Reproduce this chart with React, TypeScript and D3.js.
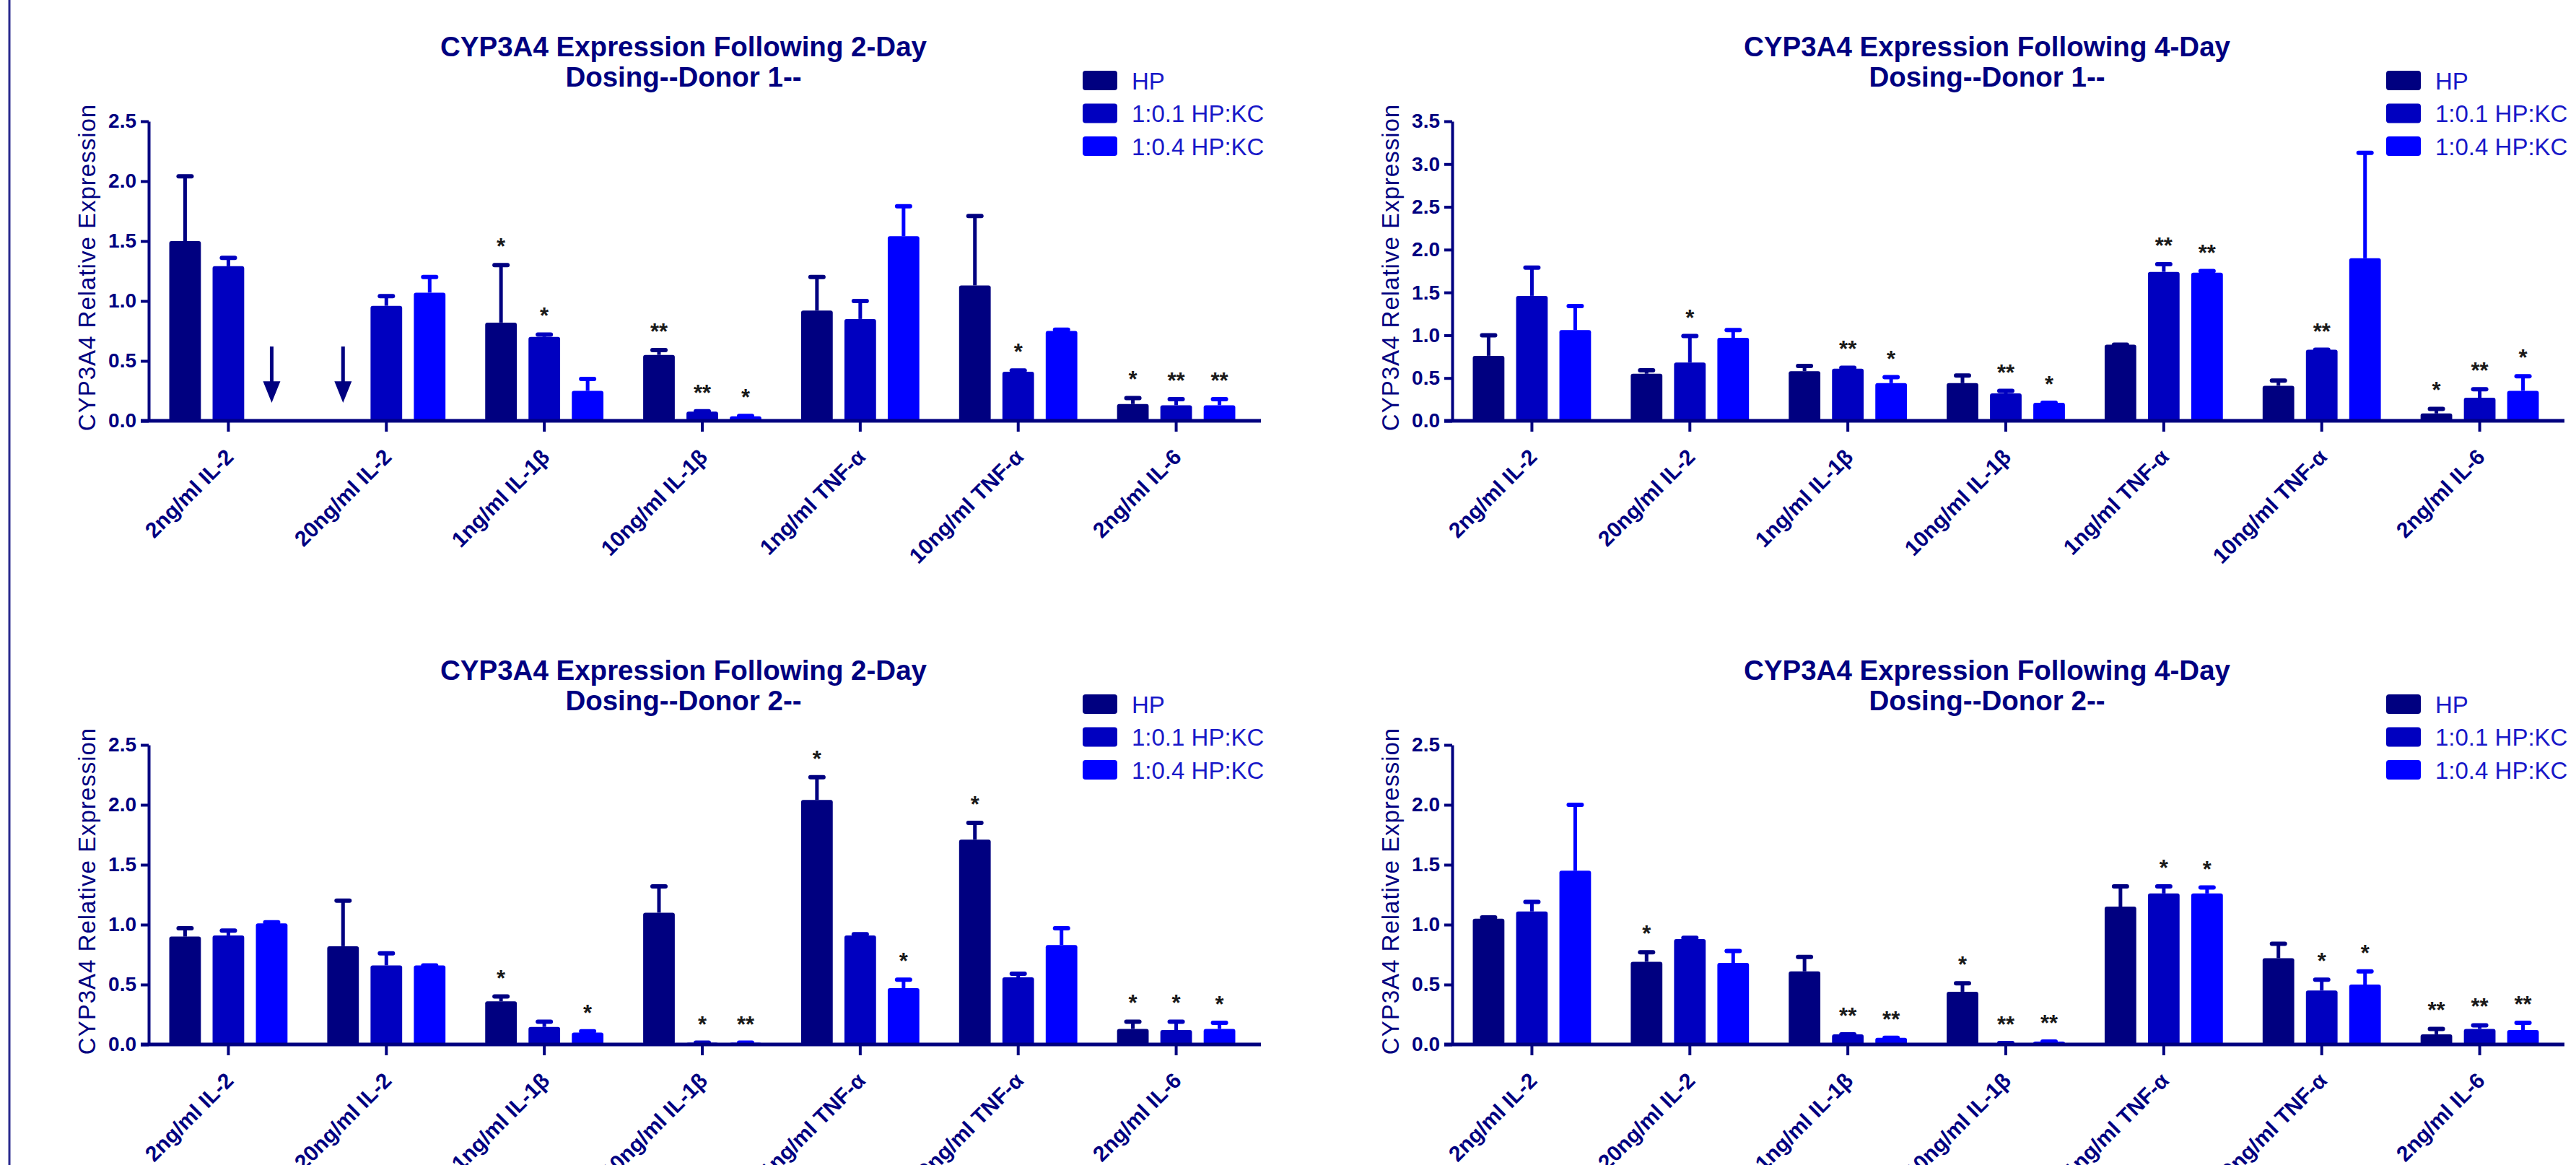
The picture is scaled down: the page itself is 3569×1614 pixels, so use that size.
import React, { useRef, useEffect } from 'react';
import { select, scaleBand, scaleLinear, axisLeft, axisBottom, range } from 'd3';

// categories and series shared by all four panels
const categories = ['2ng/ml IL-2', '20ng/ml IL-2', '1ng/ml IL-1β', '10ng/ml IL-1β', '1ng/ml TNF-α', '10ng/ml TNF-α', '2ng/ml IL-6'];
const seriesNames = ['HP', '1:0.1 HP:KC', '1:0.4 HP:KC'];
const seriesColors = ['#000080', '#0000c0', '#0000ff'];

/* 2-day dosing, donor 1 (means, top of error bars, significance marks) */
const d2d1Means = [
    [1.50, null, 0.82, 0.55, 0.92, 1.13, 0.14],
    [1.29, 0.96, 0.70, 0.077, 0.85, 0.41, 0.13],
    [null, 1.07, 0.25, 0.037, 1.54, 0.75, 0.13],
];
const d2d1Errs = [
    [2.04, null, 1.30, 0.59, 1.20, 1.71, 0.19],
    [1.36, 1.04, 0.72, 0.08, 1.00, 0.42, 0.18],
    [null, 1.20, 0.35, 0.04, 1.79, 0.76, 0.18],
];
const d2d1Stars = [
    ['', '', '*', '**', '', '', '*'],
    ['', '', '*', '**', '', '*', '**'],
    ['', '', '', '*', '', '', '**'],
];
// bars below detection, marked with an arrow: [category index, series index]
const d2d1Arrows = [[0, 2], [1, 0]];

/* 4-day dosing, donor 1 */
const d4d1Means = [
    [0.76, 0.55, 0.58, 0.44, 0.89, 0.41, 0.086],
    [1.46, 0.68, 0.61, 0.32, 1.74, 0.83, 0.27],
    [1.06, 0.97, 0.44, 0.21, 1.73, 1.90, 0.35],
];
const d4d1Errs = [
    [1.00, 0.59, 0.64, 0.53, 0.89, 0.47, 0.14],
    [1.79, 0.99, 0.62, 0.35, 1.83, 0.83, 0.37],
    [1.34, 1.06, 0.51, 0.21, 1.75, 3.13, 0.52],
];
const d4d1Stars = [
    ['', '', '', '', '', '', '*'],
    ['', '*', '**', '**', '**', '**', '**'],
    ['', '', '*', '*', '**', '', '*'],
];

/* 2-day dosing, donor 2 */
const d2d2Means = [
    [0.90, 0.82, 0.36, 1.10, 2.04, 1.71, 0.13],
    [0.91, 0.66, 0.146, 0.015, 0.91, 0.56, 0.12],
    [1.01, 0.66, 0.10, 0.015, 0.47, 0.83, 0.13],
];
const d2d2Errs = [
    [0.97, 1.20, 0.40, 1.32, 2.23, 1.85, 0.19],
    [0.95, 0.76, 0.19, 0.015, 0.92, 0.59, 0.19],
    [1.02, 0.66, 0.11, 0.015, 0.54, 0.97, 0.18],
];
const d2d2Stars = [
    ['', '', '*', '', '*', '*', '*'],
    ['', '', '', '*', '', '', '*'],
    ['', '', '*', '**', '*', '', '*'],
];

/* 4-day dosing, donor 2 */
const d4d2Means = [
    [1.05, 0.69, 0.61, 0.44, 1.15, 0.72, 0.085],
    [1.11, 0.88, 0.085, 0.012, 1.26, 0.45, 0.13],
    [1.45, 0.68, 0.055, 0.024, 1.26, 0.50, 0.12],
];
const d4d2Errs = [
    [1.06, 0.77, 0.73, 0.51, 1.32, 0.84, 0.13],
    [1.19, 0.89, 0.085, 0.012, 1.32, 0.54, 0.16],
    [2.00, 0.78, 0.055, 0.024, 1.31, 0.61, 0.18],
];
const d4d2Stars = [
    ['', '*', '', '*', '', '', '**'],
    ['', '', '**', '**', '*', '*', '**'],
    ['', '', '**', '**', '*', '*', '**'],
];

const yTicks25 = [0, 0.5, 1.0, 1.5, 2.0, 2.5];
const yTicks35 = [0, 0.5, 1.0, 1.5, 2.0, 2.5, 3.0, 3.5];

const NAVY = '#000080';
const FONT = '"Liberation Sans", Arial, Helvetica, sans-serif';
const PLOT_W = 1532;

const panels = [
    { title: ['CYP3A4 Expression Following 2-Day', 'Dosing--Donor 1--'], x0: 207, top: 168, base: 583, ticks: yTicks25, means: d2d1Means, errs: d2d1Errs, stars: d2d1Stars, arrows: d2d1Arrows },
    { title: ['CYP3A4 Expression Following 4-Day', 'Dosing--Donor 1--'], x0: 2013, top: 168, base: 583, ticks: yTicks35, means: d4d1Means, errs: d4d1Errs, stars: d4d1Stars, arrows: [] },
    { title: ['CYP3A4 Expression Following 2-Day', 'Dosing--Donor 2--'], x0: 207, top: 1032, base: 1447, ticks: yTicks25, means: d2d2Means, errs: d2d2Errs, stars: d2d2Stars, arrows: [] },
    { title: ['CYP3A4 Expression Following 4-Day', 'Dosing--Donor 2--'], x0: 2013, top: 1032, base: 1447, ticks: yTicks25, means: d4d2Means, errs: d4d2Errs, stars: d4d2Stars, arrows: [] },
];

const drawPanel = (g, p) => {
    const x1 = p.x0 + PLOT_W;
    const x = scaleBand().domain(categories).range([p.x0, x1]);
    /* position of each series inside a category group */
    const xs = scaleBand().domain(seriesNames).range([-90, 90]).paddingInner(0.27).paddingOuter(0.135);
    const yMax = p.ticks[p.ticks.length - 1];
    const y = scaleLinear().domain([0, yMax]).range([p.base, p.top]);
    const cx = (i, s) => x(categories[i]) + x.bandwidth() / 2 + xs(seriesNames[s]) + xs.bandwidth() / 2;

    // title
    const tx = (p.x0 + x1) / 2 - 26;
    g.selectAll('.title').data(p.title).join('text')
        .attr('class', 'title')
        .attr('x', tx).attr('y', (_, i) => p.top - 90 + i * 42)
        .attr('text-anchor', 'middle')
        .style('font', `bold 38.5px ${FONT}`).attr('fill', NAVY)
        .text(d => d);

    // y axis
    const yAxis = axisLeft(y).tickValues(p.ticks).tickFormat(d => d.toFixed(1)).tickSize(11).tickSizeOuter(0).tickPadding(6);
    const ya = g.append('g').attr('transform', `translate(${p.x0 - 1},0)`).call(yAxis);
    ya.select('.domain').attr('stroke', NAVY).attr('stroke-width', 4);
    ya.selectAll('line').attr('stroke', NAVY).attr('stroke-width', 4);
    ya.selectAll('text').style('font', `bold 28px ${FONT}`).attr('fill', NAVY);

    g.append('text')
        .attr('transform', `translate(${p.x0 - 75},${(p.top + p.base) / 2 - 5}) rotate(-90)`)
        .attr('text-anchor', 'middle')
        .style('font', `33px ${FONT}`).style('letter-spacing', '1px').attr('fill', NAVY)
        .text('CYP3A4 Relative Expression');

    // bars
    p.means.forEach((vals, s) => {
        const items = vals.map((v, i) => ({ v, i, e: p.errs[s][i], star: p.stars[s][i] })).filter(d => d.v !== null);
        g.selectAll(`.bar${s}`).data(items).join('rect')
            .attr('class', `bar${s}`)
            .attr('x', d => cx(d.i, s) - xs.bandwidth() / 2)
            .attr('y', d => y(d.v))
            .attr('width', xs.bandwidth())
            .attr('height', d => p.base - y(d.v))
            .attr('rx', 3)
            .attr('fill', seriesColors[s]);
        g.selectAll(`.err${s}`).data(items).join('line')
            .attr('class', `err${s}`)
            .attr('x1', d => cx(d.i, s)).attr('x2', d => cx(d.i, s))
            .attr('y1', d => y(d.v)).attr('y2', d => y(d.e))
            .attr('stroke', seriesColors[s]).attr('stroke-width', 5);
        g.selectAll(`.cap${s}`).data(items).join('line')
            .attr('class', `cap${s}`)
            .attr('x1', d => cx(d.i, s) - 9).attr('x2', d => cx(d.i, s) + 9)
            .attr('y1', d => y(d.e)).attr('y2', d => y(d.e))
            .attr('stroke', seriesColors[s]).attr('stroke-width', 6).attr('stroke-linecap', 'round');
        g.selectAll(`.star${s}`).data(items.filter(d => d.star)).join('text')
            .attr('class', `star${s}`)
            .attr('x', d => cx(d.i, s)).attr('y', d => y(d.e) - 15)
            .attr('text-anchor', 'middle')
            .style('font', `bold 31px ${FONT}`).attr('fill', '#1a1a1a')
            .text(d => d.star);
    });

    // arrows for undetected samples
    p.arrows.forEach(([i, s]) => {
        const ax = cx(i, s);
        g.append('line').attr('x1', ax).attr('x2', ax).attr('y1', y(0.62)).attr('y2', y(0.3))
            .attr('stroke', NAVY).attr('stroke-width', 5);
        g.append('path')
            .attr('d', `M${ax - 12},${y(0.33)} L${ax + 12},${y(0.33)} L${ax},${y(0.15)} Z`)
            .attr('fill', NAVY);
    });

    // x axis
    const xAxis = axisBottom(x).tickSize(15).tickSizeOuter(0).tickPadding(0);
    const xa = g.append('g').attr('transform', `translate(0,${p.base})`).call(xAxis);
    xa.select('.domain').remove();
    xa.selectAll('line').attr('stroke', NAVY).attr('stroke-width', 4);
    xa.selectAll('text')
        .attr('y', 0).attr('dy', 0)
        .attr('text-anchor', 'end')
        .attr('transform', 'translate(9,52) rotate(-45)')
        .style('font', `bold 30px ${FONT}`).attr('fill', NAVY);
    g.append('line').attr('x1', p.x0 - 12).attr('x2', x1 + 8).attr('y1', p.base).attr('y2', p.base)
        .attr('stroke', NAVY).attr('stroke-width', 5);

    // legend
    const rows = range(seriesNames.length);
    g.selectAll('.legsq').data(rows).join('rect')
        .attr('class', 'legsq')
        .attr('x', x1 - 239).attr('y', s => p.top - 70 + s * 45.5)
        .attr('width', 48).attr('height', 27).attr('rx', 4)
        .attr('fill', s => seriesColors[s]);
    g.selectAll('.legtx').data(rows).join('text')
        .attr('class', 'legtx')
        .attr('x', x1 - 171).attr('y', s => p.top - 56 + s * 45.5)
        .attr('dy', '0.36em')
        .style('font', `33px ${FONT}`).attr('fill', '#1818c8')
        .text(s => seriesNames[s]);
};

const App = () => {
    const svgRef = useRef(null);
    useEffect(() => {
        const svg = select(svgRef.current);
        svg.selectAll('*').remove();
        svg.append('rect').attr('width', 3569).attr('height', 1614).attr('fill', '#fff');
        /* thin frame line on the left edge */
        svg.append('line').attr('x1', 13).attr('x2', 13).attr('y1', 0).attr('y2', 1614)
            .attr('stroke', '#2a2a8e').attr('stroke-width', 3);
        panels.forEach(p => drawPanel(svg.append('g'), p));
    }, []);

    return (
        <svg ref={svgRef} width={3569} height={1614} style={{ position: 'absolute', left: 0, top: 0 }} />
    );
};

export default App;
